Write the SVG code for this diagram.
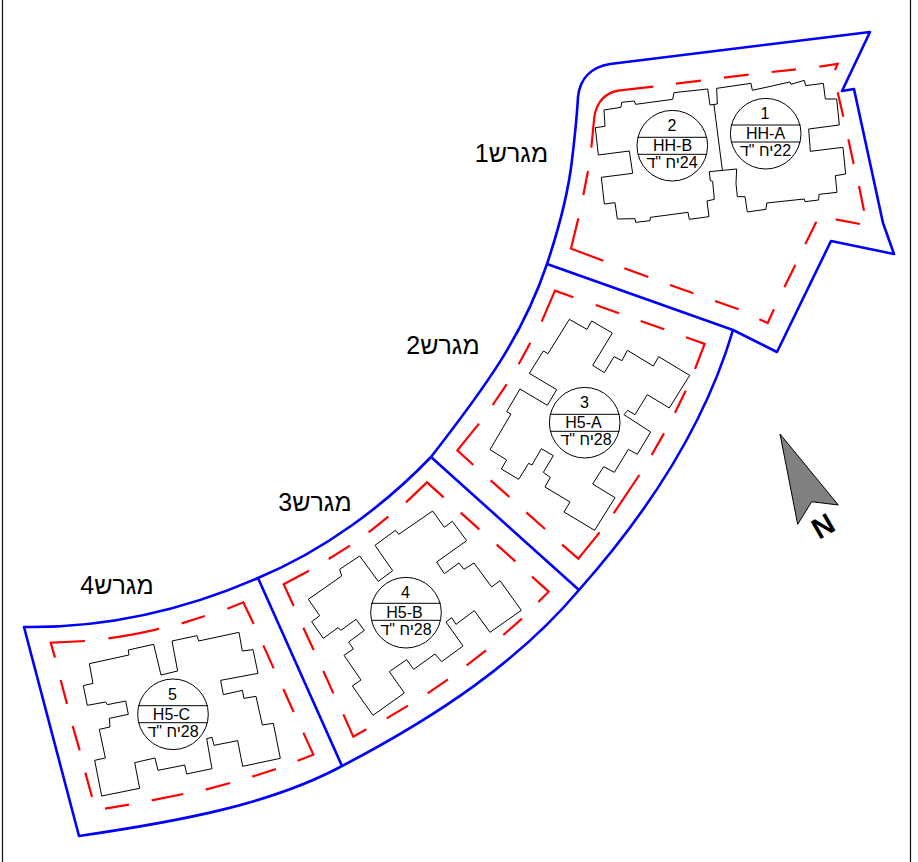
<svg xmlns="http://www.w3.org/2000/svg" width="918" height="862" viewBox="0 0 918 862">
<style>
.frame{fill:none;stroke:#111;stroke-width:1.2}
.lot{fill:none;stroke:#0000ff;stroke-width:2.6;stroke-linejoin:round}
.setback{fill:none;stroke:#ff0000;stroke-width:6.6}
.bld{fill:none;stroke:#000;stroke-width:1}
.bldz{fill:none;stroke:#000;stroke-width:3}
.tag{fill:#fff;stroke:#000;stroke-width:1}
.t{font-family:"Liberation Sans",Arial,sans-serif;font-size:16px;fill:#000;text-anchor:middle}
.lbl{font-family:"Liberation Sans",Arial,sans-serif;font-size:25px;fill:#000;text-anchor:middle}
</style>
<rect width="918" height="862" fill="#fff"/>
<rect class="frame" x="2.5" y="-2" width="908" height="870"/>
<g id="connectors">
<path id="lot-lines" class="lot" d="M547,264C560,225 568,195 572,160C575,135 577,115 578,97C580,78 592,67 610,64L870,32L842,91L854,89L883,223L894,254L831,241L777,352L733,330L547,264C523,335 487,385 431,457C385,505 325,550 258,578C180,612 100,628 24,627L79,836C175,822 270,805 342,766C440,715 520,660 579,590C650,510 705,425 733,330M431,457L579,590M258,578L342,766"/>
</g>
<g id="setbacks-1" transform="translate(570 20) scale(.33333)">
<path class="setback" d="M795,150L803,132L748,140M678,148L605,156M536,164L462,173M393,182L318,191M250,200L150,211Q85,220 73,290L64,383M54,453L40,525M25,595L3,686L100,722M163,745L235,771M300,795L370,820M435,843L506,868M568,898L593,909L612,868M643,802L676,735M706,672L739,605M797,598L870,612M882,572L867,498M851,432L835,358M820,290L803,217"/>
</g>
<g id="setbacks-2" transform="translate(430 270) scale(.33333)">
<path class="setback" d="M335,155L375,62L430,82M497,105L567,130M632,153L703,178M768,202L824,222L795,297M767,362L735,428M702,490L665,555M628,615L551,730M509,787L445,866L396,824M345,777L289,727M238,681L182,631M130,585L82,541L147,461M188,405L230,343M266,283L301,218"/>
</g>
<g id="setbacks-3" transform="translate(250 470) scale(.33333)">
<path class="setback" d="M468,97L531,37L581,82M632,128L688,178M740,224L796,274M846,320L896,365L865,396M816,446L760,495M708,541L650,586M594,628L533,670M474,707L410,745M349,778L310,800L280,733M250,670L220,603M191,540L160,473M131,408L101,343L177,302M236,267L300,227M356,187L415,140"/>
</g>
<g id="setbacks-4" transform="translate(10 590) scale(.33333)">
<path class="setback" d="M225,153L122,158L135,203M152,270L171,342M188,408L209,481M226,548L246,621M285,656L357,644M425,631L520,612M587,599L660,579M727,560L798,537M863,512L910,494L880,428M851,366L820,297M791,235L760,166M731,102L700,37L652,56M585,78L515,100M447,116Q400,130 295,145"/>
</g>
<g id="building-1-2" transform="translate(570 20) scale(.33333)">
<path class="bldz" d="M102,270L153,262L155,247L193,243L197,253L308,238L312,218L413,207L420,255L442,252L440,205L543,190L547,211L660,186L663,193L703,181L707,197L760,190L766,237L800,237L808,315L716,327L721,394L819,382L827,462L796,467L801,517L747,523L746,540L705,545L703,537L590,549L588,568L532,576L525,530L502,530L498,490L500,447L418,455L421,482L428,484L433,538L411,543L417,590L358,598L354,577L241,592L240,602L197,607L195,596L142,597L135,548L103,552L94,472L188,460L178,393L85,405L76,323L105,319ZM432,255L457,450"/>
</g>
<g id="building-3" transform="translate(430 270) scale(.33333)">
<path class="bldz" d="M418,148L471,178L485,153L547,189L488,286L523,308L552,260L576,272L592,241L670,288L686,260L779,316L718,414L652,374L615,434L593,421L582,434L662,486L622,553L595,538L553,607L521,590L488,642L555,683L494,781L402,726L420,696L345,651L361,622L340,607L370,557L334,536L306,585L296,580L266,628L214,597L230,570L180,539L243,432L230,425L270,357L352,406L380,359L298,310L340,243L354,251Z"/>
</g>
<g id="building-4" transform="translate(250 470) scale(.33333)">
<path class="bldz" d="M548,123L583,172L607,154L650,212L560,276L583,311L627,279L642,298L672,279L725,351L750,332L814,421L720,487L673,422L618,463L605,443L588,456L639,528L575,575L555,552L491,598L470,569L418,605L463,669L369,736L307,648L333,630L282,556L310,537L296,516L343,481L318,448L273,481L264,473L220,505L185,455L209,437L175,388L275,318L269,298L329,258L385,334L428,302L375,226L436,181L446,193Z"/>
</g>
<g id="building-5" transform="translate(10 590) scale(.33333)">
<path class="bldz" d="M238,221L357,195L355,180L431,163L453,255L503,243L486,153L561,137L566,153L687,127L697,183L729,179L744,250L632,271L640,314L697,301L702,325L738,319L757,405L790,400L811,505L698,529L683,452L612,466L606,442L590,446L606,536L530,552L524,525L444,541L435,504L374,518L389,595L275,618L254,511L286,504L268,418L300,411L298,385L355,373L347,333L292,344L287,336L232,346L220,287L249,280Z"/>
</g>
<g id="tag-1">
<circle class="tag" cx="765.7" cy="133.7" r="35.3"/>
<path class="bld" d="M730.8,125H800.6M731,142H800.4"/>
<text class="t" x="765" y="119">1</text><text class="t" x="765.5" y="139">HH-A</text>
<text class="t" x="765.5" y="156" direction="rtl">22יח "ד</text>
</g>
<g id="tag-2">
<circle class="tag" cx="672.3" cy="145.7" r="35.3"/>
<path class="bld" d="M637.4,137.3H707.2M637.6,154.3H707"/>
<text class="t" x="672" y="131">2</text><text class="t" x="672.5" y="151">HH-B</text>
<text class="t" x="672" y="168" direction="rtl">24יח "ד</text>
</g>
<g id="tag-3">
<circle class="tag" cx="584.7" cy="422.7" r="35.3"/>
<path class="bld" d="M549.8,414.3H619.6M550,431.3H619.4"/>
<text class="t" x="584.5" y="408">3</text><text class="t" x="583.5" y="428">H5-A</text>
<text class="t" x="586" y="445" direction="rtl">28יח "ד</text>
</g>
<g id="tag-4">
<circle class="tag" cx="406" cy="612.7" r="35.3"/>
<path class="bld" d="M371.1,603.3H440.9M371.3,620.3H440.7"/>
<text class="t" x="405.5" y="598">4</text><text class="t" x="404.5" y="618">H5-B</text>
<text class="t" x="406" y="635" direction="rtl">28יח "ד</text>
</g>
<g id="tag-5">
<circle class="tag" cx="173" cy="714.3" r="35.3"/>
<path class="bld" d="M138.1,705.7H207.9M138.3,722.7H207.7"/>
<text class="t" x="172.5" y="700">5</text><text class="t" x="171.5" y="720">H5-C</text>
<text class="t" x="173" y="737" direction="rtl">28יח "ד</text>
</g>
<g id="labels">
<text class="lbl" x="511.5" y="162" direction="rtl">מגרש1</text>
<text class="lbl" x="443" y="354" direction="rtl">מגרש2</text>
<text class="lbl" x="315" y="511" direction="rtl">מגרש3</text>
<text class="lbl" x="117" y="594" direction="rtl">מגרש4</text>
</g>
<g id="north">
<path d="M780,434L838.3,505L811.7,501.7L797.7,524.3Z" fill="#808080" stroke="#000" stroke-width="1"/>
<text transform="translate(823 526) rotate(-30)" y="10" text-anchor="middle" font-family="'Liberation Sans',Arial,sans-serif" font-weight="bold" font-size="29">N</text>
</g>
</svg>
